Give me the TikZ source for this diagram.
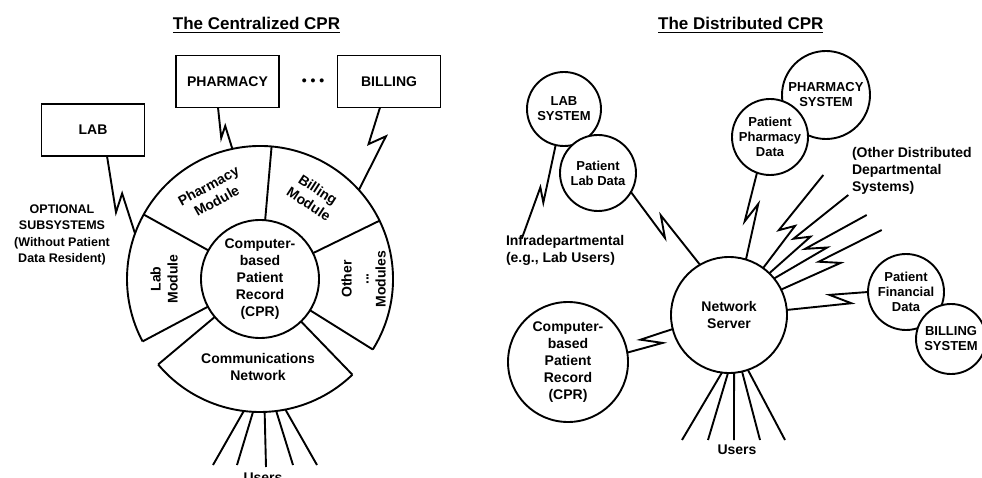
\documentclass[tikz,border=0pt]{standalone}
\usepackage{fontspec}
\setmainfont{Liberation Sans}
\usetikzlibrary{calc}
\begin{document}
\begin{tikzpicture}[x=1pt,y=1pt,
  line width=1.9pt,
  every node/.style={inner sep=0pt, outer sep=0pt, align=center,
    font=\fontsize{14}{17}\selectfont\bfseries},
  ttl/.style={anchor=base, font=\fontsize{17}{20}\selectfont\bfseries},
  sysbox/.style={draw, minimum width=103pt, minimum height=52pt},
  disk/.style={draw, circle, fill=white},
  small/.style={font=\fontsize{13}{15}\selectfont\bfseries},
  % lightning-style link: two kinks given as (fraction, side offset) pairs
  bolt/.style n args={4}{to path={
    -- ($(\tikztostart)!#1!(\tikztotarget)!#2pt!90:(\tikztotarget)$)
    -- ($(\tikztostart)!#3!(\tikztotarget)!#4pt!90:(\tikztotarget)$)
    -- (\tikztotarget)}},
]
\useasboundingbox (0,0) rectangle (982,477);

% ---------------- titles ----------------
\node[ttl] (t1) at (256.5,447) {The Centralized CPR};
\draw[line width=1.5pt] ([yshift=-2.6pt]t1.base west) -- ([yshift=-2.6pt]t1.base east);
\node[ttl] (t2) at (740.8,447) {The Distributed CPR};
\draw[line width=1.5pt] ([yshift=-2.6pt]t2.base west) -- ([yshift=-2.6pt]t2.base east);

% ---------------- centralized ring ----------------
\coordinate (C) at (260,198);
\node[draw, circle, minimum size=118pt] (cpr) at (C)
  {Computer-\\based\\Patient\\Record\\(CPR)};
\node[circle, minimum size=266pt] (ring) at (C) {};

% module dividers
\foreach \a in {151,85,26,-32,208,220,314}
  \draw (cpr.\a) -- (ring.\a);
% outer rims
\draw (ring.-32) arc[start angle=-32, end angle=208, radius=133];
\draw (ring.220) arc[start angle=220, end angle=314, radius=133];

% module names
\node[rotate=29] (pm) at (212.5,283.7) {Pharmacy\\Module};
\node[rotate=-33] (bm) at (313.4,280.2) {Billing\\Module};
\node[rotate=90] (lm) at (164,198) {Lab\\Module};
\node[rotate=90] (om) at (363.5,198) {Other\\...\\Modules};
\node (cn) at (258,110.5) {Communications\\Network};

% departmental subsystems
\node[sysbox] (lab) at (93,347) {LAB};
\node[sysbox] (pharm) at (227.5,395.5) {PHARMACY};
\node[sysbox] (bill) at (389,395.5) {BILLING};
\node (dots) at (313,395) {• • •};
\node[font=\fontsize{12.5}{16.3}\selectfont\bfseries] (opt) at (62,242)
  {OPTIONAL\\SUBSYSTEMS\\(Without Patient\\Data Resident)};

\coordinate (labout) at ([xshift=14pt]lab.south);
\coordinate (pharmout) at ([xshift=-9.5pt]pharm.south);
\coordinate (billout) at ([xshift=-9pt]bill.south);
\draw (labout) to[bolt={0.68}{-10.7}{0.49}{1.5}] (ring.160);
\draw (pharmout) to[bolt={0.68}{-6.9}{0.45}{0.8}] (ring.102);
\draw (billout) to[bolt={0.45}{-2}{0.31}{12.9}] (ring.42);

% users of the communications network
\coordinate (lu1) at (213,12);
\coordinate (lu2) at (237,12);
\coordinate (lu3) at (266,10);
\coordinate (lu4) at (293,12);
\coordinate (lu5) at (317,12);
\draw (ring.263) -- (lu1);
\draw (ring.267) -- (lu2);
\draw (ring.272) -- (lu3);
\draw (ring.277) -- (lu4);
\draw (ring.281) -- (lu5);
\node (lusers) at (263,-1) {Users};

% ---------------- distributed network ----------------
\node[disk, minimum size=116pt] (ns) at (729,162) {Network\\Server};
\node[disk, minimum size=120pt] (rc) at (568,115)
  {Computer-\\based\\Patient\\Record\\(CPR)};
\node[disk, small, minimum size=74pt] (ls) at (564,368) {LAB\\SYSTEM};
\node[disk, small, minimum size=76pt] (pld) at (598,304) {Patient\\Lab Data};
\node[disk, small, minimum size=88pt] (ps) at (826,382) {PHARMACY\\SYSTEM};
\node[disk, small, minimum size=76pt] (ppd) at (770,340) {Patient\\Pharmacy\\Data};
\node[disk, small, minimum size=76pt] (pfd) at (906,185) {Patient\\Financial\\Data};
\node[disk, small, minimum size=70pt] (bs) at (951,138) {BILLING\\SYSTEM};

\node[anchor=west, align=left] (infratext) at (506,227)
  {Infradepartmental\\(e.g., Lab Users)};
\node[anchor=west, align=left] (othertext) at (852,306)
  {(Other Distributed\\Departmental\\Systems)};

\coordinate (infra) at (522,239);
\draw (ls.257) to[bolt={0.59}{8}{0.455}{0}] (infra);
\draw (pld.-30) to[bolt={0.565}{-6.9}{0.374}{5.6}] (ns.120);
\draw (ppd.250) to[bolt={0.569}{-6.1}{0.352}{5.2}] (ns.73);
\draw (rc.9) to[bolt={0.70}{-7.7}{0.345}{5.4}] (ns.194);
\draw (ns.5) to[bolt={0.776}{-7.4}{0.54}{5.5}] (pfd.180);

% other departmental systems
\coordinate (od1) at (823.3,302);
\coordinate (od2) at (848.3,282);
\coordinate (od3) at (866.7,262);
\coordinate (od4) at (881.7,247);
\draw (ns.54) to[bolt={0.476}{-3.9}{0.364}{7.4}] (od1);
\draw (ns.46) to[bolt={0.495}{-3}{0.373}{7.5}] (od2);
\draw (ns.39) to[bolt={0.546}{-4.45}{0.377}{6.9}] (od3);
\draw (ns.26) to[bolt={0.555}{-7.4}{0.398}{4.8}] (od4);

% users of the network server
\coordinate (ru1) at (682,37);
\coordinate (ru2) at (708,37);
\coordinate (ru3) at (734,37);
\coordinate (ru4) at (760,37);
\coordinate (ru5) at (785,37);
\draw (ns.263) -- (ru1);
\draw (ns.269) -- (ru2);
\draw (ns.275) -- (ru3);
\draw (ns.283) -- (ru4);
\draw (ns.289) -- (ru5);
\node (rusers) at (737,27) {Users};
\end{tikzpicture}
\end{document}
